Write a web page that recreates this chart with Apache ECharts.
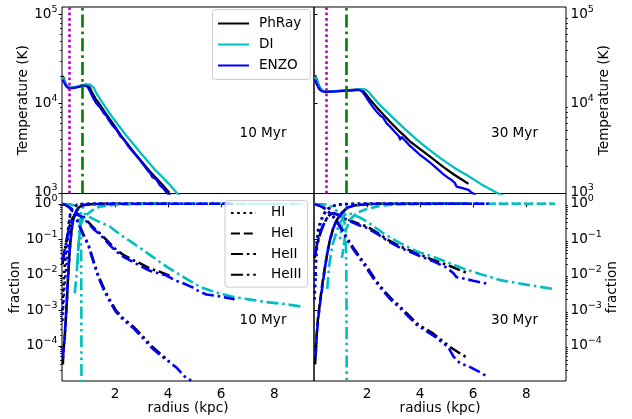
<!DOCTYPE html>
<html><head><meta charset="utf-8">
<script src="https://cdn.jsdelivr.net/npm/echarts@6/dist/echarts.min.js"></script>
<style>html,body{margin:0;padding:0;background:#fff}#c{width:632px;height:419px}</style>
</head><body><div id="c"></div>
<script>
// ---------- data ----------
const codeNames = ['PhRay', 'DI', 'ENZO'];
const speciesNames = ['HI', 'HeI', 'HeII', 'HeIII'];
const panelLabels = ['10 Myr', '30 Myr'];
const radiusTicks = [2, 4, 6, 8];
const tempTickExp = [3, 4, 5];
const fracTickExp = [-4, -3, -2, -1, 0];
const markRadius10 = [0.29, 0.755];   // magenta dotted, green dash-dot
const markRadius30 = [0.48, 1.21];

// Temperature [radius kpc, T K]
const T_PhRay_10 = [[0.03,2.04e4],[0.08,1.85e4],[0.15,1.62e4],[0.22,1.53e4],[0.3,1.5e4],[0.45,1.52e4],[0.6,1.55e4],[0.75,1.6e4],[0.9,1.63e4],[0.98,1.6e4],[1.05,1.5e4],[1.15,1.3e4],[1.27,1.13e4],[1.4,1.0e4],[1.6,8.1e3],[1.8,6.7e3],[2.0,5.5e3],[2.25,4.27e3],[2.5,3.43e3],[2.75,2.75e3],[3.0,2.24e3],[3.25,1.82e3],[3.5,1.51e3],[3.75,1.26e3],[4.05,1.0e3]];
const T_DI_10 = [[0.03,1.98e4],[0.1,1.75e4],[0.2,1.56e4],[0.3,1.5e4],[0.5,1.53e4],[0.7,1.58e4],[0.9,1.62e4],[1.05,1.64e4],[1.12,1.6e4],[1.2,1.5e4],[1.3,1.3e4],[1.42,1.14e4],[1.55,1.0e4],[1.75,8.1e3],[1.95,6.7e3],[2.17,5.5e3],[2.45,4.27e3],[2.72,3.43e3],[2.98,2.75e3],[3.24,2.24e3],[3.5,1.82e3],[3.77,1.51e3],[4.03,1.26e3],[4.32,1.0e3],[4.6,0.82e3]];
const T_ENZO_10 = [[0.02,1.85e4],[0.08,1.72e4],[0.15,1.58e4],[0.25,1.48e4],[0.4,1.49e4],[0.6,1.53e4],[0.8,1.58e4],[0.92,1.58e4],[1.0,1.48e4],[1.08,1.32e4],[1.18,1.15e4],[1.3,1.0e4],[1.45,8.9e3],[1.6,7.6e3],[1.68,7.3e3],[1.75,6.6e3],[1.9,5.7e3],[2.05,5.1e3],[2.2,4.3e3],[2.35,3.9e3],[2.5,3.3e3],[2.65,2.95e3],[2.8,2.6e3],[2.95,2.3e3],[3.1,2.0e3],[3.25,1.75e3],[3.35,1.62e3],[3.4,1.5e3],[3.55,1.42e3],[3.7,1.2e3],[3.82,1.12e3],[3.95,1.0e3],[4.1,0.92e3]];
const T_PhRay_30 = [[0.04,2.07e4],[0.1,1.85e4],[0.2,1.55e4],[0.3,1.4e4],[0.42,1.36e4],[0.7,1.37e4],[1.0,1.39e4],[1.3,1.41e4],[1.6,1.43e4],[1.75,1.43e4],[1.85,1.38e4],[1.95,1.28e4],[2.1,1.12e4],[2.36,9.1e3],[2.6,7.6e3],[2.9,6.1e3],[3.2,4.95e3],[3.4,4.37e3],[3.62,3.76e3],[4.0,3.09e3],[4.4,2.51e3],[4.87,1.95e3],[5.3,1.58e3],[5.82,1.26e3]];
const T_DI_30 = [[0.04,2.0e4],[0.1,1.8e4],[0.2,1.52e4],[0.3,1.4e4],[0.45,1.36e4],[1.0,1.39e4],[1.5,1.42e4],[1.85,1.45e4],[1.95,1.43e4],[2.05,1.36e4],[2.2,1.2e4],[2.5,9.5e3],[2.8,7.8e3],[3.1,6.4e3],[3.45,5.1e3],[3.85,4.0e3],[4.3,3.1e3],[4.8,2.4e3],[5.3,1.9e3],[5.8,1.55e3],[6.3,1.25e3],[6.89,1.0e3],[7.3,0.88e3]];
const T_ENZO_30 = [[0.04,1.85e4],[0.1,1.65e4],[0.2,1.45e4],[0.3,1.37e4],[0.45,1.35e4],[1.0,1.38e4],[1.5,1.41e4],[1.72,1.42e4],[1.82,1.36e4],[1.92,1.24e4],[2.05,1.08e4],[2.2,9.3e3],[2.35,8.2e3],[2.5,7.3e3],[2.6,7.0e3],[2.74,6.0e3],[2.9,5.4e3],[3.05,4.8e3],[3.2,4.3e3],[3.25,3.95e3],[3.3,4.2e3],[3.45,3.8e3],[3.6,3.4e3],[3.8,3.0e3],[4.0,2.65e3],[4.2,2.4e3],[4.4,2.15e3],[4.65,1.85e3],[4.87,1.62e3],[5.05,1.48e3],[5.2,1.38e3],[5.3,1.3e3],[5.38,1.17e3],[5.6,1.13e3],[5.82,1.08e3],[5.95,1.0e3],[6.1,0.95e3]];

// Fractions [radius kpc, fraction]
const F_HI_PhRay_10 = [[0.02,1e-3],[0.05,4e-3],[0.1,1.6e-2],[0.15,0.05],[0.2,0.12],[0.25,0.28],[0.3,0.45],[0.4,0.7],[0.5,0.87],[0.7,0.97],[1.0,0.995],[1.5,1],[4.05,1]];
const F_HeI_PhRay_10 = [[0.03,3e-5],[0.06,8e-5],[0.1,1.7e-4],[0.17,1.2e-3],[0.23,9e-3],[0.29,0.05],[0.35,0.16],[0.42,0.35],[0.5,0.56],[0.6,0.75],[0.7,0.85],[0.9,0.95],[1.2,0.99],[2,1],[4.05,1]];
const F_HeII_PhRay_10 = [[0.02,0.02],[0.1,0.05],[0.2,0.12],[0.3,0.25],[0.4,0.4],[0.5,0.5],[0.58,0.53],[0.7,0.48],[0.85,0.4],[1.0,0.3],[1.2,0.21],[1.42,0.15],[1.75,0.085],[2.05,0.05],[2.35,0.035],[2.68,0.026],[3.0,0.02],[3.31,0.015],[3.65,0.0125],[4.05,0.0095]];
const F_HeIII_PhRay_10 = [[0.02,0.98],[0.1,0.95],[0.2,0.88],[0.3,0.78],[0.4,0.62],[0.5,0.46],[0.6,0.32],[0.7,0.21],[0.8,0.14],[0.9,0.1],[1.0,0.07],[1.15,0.03],[1.36,0.01],[1.6,3.8e-3],[1.8,2e-3],[2.03,1e-3],[2.3,6e-4],[2.68,3.5e-4],[3.0,2e-4],[3.37,1e-4],[3.7,6e-5],[3.94,4.3e-5],[4.05,3.6e-5]];
const F_HI_DI_10 = [[0.64,0.15],[0.7,0.5],[0.8,0.85],[1.0,0.97],[1.5,1],[9.09,1]];
const F_HeI_DI_10 = [[0.58,0.02],[0.62,0.07],[0.7,0.25],[0.8,0.38],[0.92,0.49],[1.2,0.7],[1.42,0.83],[2.0,0.94],[3,0.99],[4,1],[9.09,1]];
const F_HeII_DI_10 = [[0.48,3e-3],[0.55,0.01],[0.6,0.04],[0.65,0.12],[0.7,0.3],[0.76,0.55],[0.82,0.55],[0.92,0.49],[1.1,0.4],[1.4,0.31],[1.8,0.23],[2.2,0.135],[2.68,0.078],[3.3,0.037],[3.94,0.017],[4.6,0.0085],[5.2,0.0046],[5.8,0.0032],[6.45,0.0024],[7.1,0.002],[7.71,0.0017],[8.4,0.0015],[9.09,0.00126]];
const F_HeIII_DI_10 = [[0.02,0.99],[0.3,0.97],[0.45,0.9],[0.55,0.75],[0.62,0.5],[0.67,0.3],[0.7,0.2],[0.72,0.05],[0.73,1e-3],[0.735,1e-6]];
const F_HI_ENZO_10 = [[0.02,5e-4],[0.06,2e-3],[0.1,6e-3],[0.17,0.017],[0.23,0.095],[0.29,0.44],[0.35,0.7],[0.45,0.88],[0.6,0.96],[0.8,0.99],[1.2,1],[6.5,1]];
const F_HeI_ENZO_10 = [[0.04,5e-5],[0.07,1e-4],[0.1,1.6e-4],[0.17,1.26e-3],[0.23,8.9e-3],[0.29,0.05],[0.35,0.15],[0.42,0.35],[0.5,0.55],[0.67,0.83],[0.9,0.95],[1.3,0.99],[2,1],[6.5,1]];
const F_HeII_ENZO_10 = [[0.02,0.025],[0.1,0.05],[0.2,0.12],[0.3,0.24],[0.4,0.38],[0.5,0.48],[0.58,0.5],[0.7,0.45],[0.85,0.37],[1.0,0.28],[1.2,0.19],[1.42,0.14],[1.75,0.075],[2.05,0.045],[2.35,0.031],[2.68,0.023],[3.0,0.017],[3.31,0.013],[3.65,0.011],[3.94,0.0095],[4.3,0.0068],[4.57,0.0058],[4.9,0.0045],[5.2,0.0033],[5.45,0.0028],[5.9,0.0025],[6.45,0.0021],[6.5,0.002]];
const F_HeIII_ENZO_10 = [[0.02,0.98],[0.1,0.95],[0.2,0.87],[0.3,0.76],[0.4,0.6],[0.5,0.44],[0.6,0.3],[0.7,0.2],[0.8,0.13],[0.9,0.095],[1.0,0.065],[1.15,0.028],[1.36,0.009],[1.6,3.4e-3],[1.8,1.8e-3],[2.03,9e-4],[2.3,5.5e-4],[2.68,3.2e-4],[3.0,1.8e-4],[3.37,9e-5],[3.7,5.5e-5],[3.94,4e-5],[4.3,2.5e-5],[4.7,1.2e-5],[4.95,1e-5]];

const F_HI_PhRay_30 = [[0.02,3e-3],[0.04,6e-3],[0.07,0.03],[0.1,0.08],[0.15,0.18],[0.23,0.3],[0.35,0.5],[0.48,0.68],[0.65,0.85],[0.9,0.95],[1.3,0.99],[2,1],[5.82,1]];
const F_HeI_PhRay_30 = [[0.04,3e-5],[0.07,8e-5],[0.1,2e-4],[0.15,6e-4],[0.23,1.8e-3],[0.32,6e-3],[0.42,0.018],[0.5,0.04],[0.6,0.095],[0.72,0.2],[0.86,0.35],[1.0,0.5],[1.23,0.75],[1.5,0.9],[2,0.98],[2.5,1],[5.82,1]];
const F_HeII_PhRay_30 = [[0.02,0.03],[0.1,0.06],[0.2,0.12],[0.3,0.2],[0.45,0.35],[0.6,0.5],[0.73,0.55],[0.9,0.5],[1.1,0.42],[1.4,0.33],[1.7,0.27],[1.99,0.23],[2.4,0.15],[2.8,0.095],[3.25,0.063],[3.9,0.04],[4.5,0.026],[5.1,0.018],[5.64,0.0123],[5.82,0.0115]];
const F_HeIII_PhRay_30 = [[0.02,0.97],[0.2,0.9],[0.35,0.8],[0.48,0.68],[0.6,0.55],[0.73,0.44],[0.9,0.3],[1.05,0.2],[1.28,0.1],[1.5,0.055],[1.75,0.03],[1.99,0.017],[2.3,0.0075],[2.62,0.0037],[2.95,0.002],[3.25,0.00126],[3.55,7.5e-4],[3.87,4.3e-4],[4.2,3e-4],[4.5,2.2e-4],[4.8,1.45e-4],[5.13,9.3e-5],[5.45,6.5e-5],[5.82,4.4e-5]];
const F_HI_DI_30 = [[0.98,0.1],[1.1,0.45],[1.25,0.8],[1.5,0.95],[2,0.99],[3,1],[9.09,1]];
const F_HeI_DI_30 = [[1.05,0.03],[1.1,0.05],[1.2,0.18],[1.35,0.35],[1.6,0.55],[2.0,0.72],[2.5,0.88],[3,0.95],[4,0.99],[5,1],[9.09,1]];
const F_HeII_DI_30 = [[0.5,4e-3],[0.57,0.018],[0.7,0.07],[0.88,0.19],[1.0,0.3],[1.13,0.46],[1.25,0.55],[1.4,0.52],[1.7,0.42],[1.99,0.32],[2.6,0.15],[3.25,0.078],[3.9,0.045],[4.5,0.032],[5.2,0.02],[5.76,0.0138],[6.4,0.0098],[7.02,0.0071],[8.0,0.0053],[9.09,0.0039]];
const F_HeIII_DI_30 = [[0.02,0.99],[0.5,0.95],[0.7,0.8],[0.9,0.6],[1.05,0.45],[1.15,0.3],[1.2,0.1],[1.22,0.01],[1.23,1e-4],[1.235,1e-6]];
const F_HI_ENZO_30 = [[0.02,2e-3],[0.05,6e-3],[0.08,0.025],[0.12,0.07],[0.18,0.17],[0.25,0.3],[0.35,0.47],[0.48,0.65],[0.65,0.83],[0.9,0.94],[1.3,0.99],[2,1],[6.58,1]];
const F_HeI_ENZO_30 = [[0.06,5e-5],[0.1,1.8e-4],[0.16,6e-4],[0.23,1.6e-3],[0.32,5e-3],[0.42,0.017],[0.5,0.04],[0.6,0.095],[0.72,0.2],[0.86,0.35],[1.0,0.5],[1.23,0.76],[1.5,0.9],[2,0.98],[2.5,1],[6.58,1]];
const F_HeII_ENZO_30 = [[0.02,0.035],[0.1,0.065],[0.2,0.13],[0.3,0.21],[0.45,0.36],[0.6,0.5],[0.73,0.54],[0.9,0.48],[1.1,0.4],[1.4,0.31],[1.7,0.25],[1.99,0.21],[2.4,0.14],[2.8,0.088],[3.25,0.058],[3.9,0.036],[4.5,0.024],[5.0,0.016],[5.26,0.011],[5.38,0.0085],[5.6,0.008],[6.0,0.0068],[6.58,0.0055]];
const F_HeIII_ENZO_30 = [[0.02,0.97],[0.2,0.89],[0.35,0.78],[0.48,0.66],[0.6,0.53],[0.73,0.42],[0.9,0.28],[1.05,0.18],[1.28,0.09],[1.5,0.05],[1.75,0.027],[1.99,0.015],[2.3,0.0068],[2.62,0.0034],[2.95,0.0018],[3.25,0.00115],[3.55,6.8e-4],[3.87,3.9e-4],[4.2,2.7e-4],[4.5,1.95e-4],[4.8,1.3e-4],[5.07,9e-5],[5.26,5e-5],[5.51,3.2e-5],[5.8,2.7e-5],[6.2,1.9e-5],[6.58,1.3e-5]];

// ---------- assembly ----------
const panels = [
  { T: {PhRay: T_PhRay_10, DI: T_DI_10, ENZO: T_ENZO_10},
    F: {PhRay: [F_HI_PhRay_10, F_HeI_PhRay_10, F_HeII_PhRay_10, F_HeIII_PhRay_10],
        DI: [F_HI_DI_10, F_HeI_DI_10, F_HeII_DI_10, F_HeIII_DI_10],
        ENZO: [F_HI_ENZO_10, F_HeI_ENZO_10, F_HeII_ENZO_10, F_HeIII_ENZO_10]},
    marks: markRadius10 },
  { T: {PhRay: T_PhRay_30, DI: T_DI_30, ENZO: T_ENZO_30},
    F: {PhRay: [F_HI_PhRay_30, F_HeI_PhRay_30, F_HeII_PhRay_30, F_HeIII_PhRay_30],
        DI: [F_HI_DI_30, F_HeI_DI_30, F_HeII_DI_30, F_HeIII_DI_30],
        ENZO: [F_HI_ENZO_30, F_HeI_ENZO_30, F_HeII_ENZO_30, F_HeIII_ENZO_30]},
    marks: markRadius30 }
];

const FONT = 'DejaVu Sans';
const FS = 13.6;
const COLORS = {PhRay: '#000000', DI: '#00bfbf', ENZO: '#0000ff'};
const DASH = {HI: [2.6, 3.6], HeI: [9, 3.8], HeII: [12, 3.8, 2.6, 3.8], HeIII: [12, 3.8, 2.6, 3.8, 2.6, 3.8]};
const TEMP_RANGE = [2.992, 5.082];
const FRAC_RANGE = [-4.99, 0.29];

const grids = [
  {left: 62, top: 7, width: 252, height: 186.5},
  {left: 314, top: 7, width: 252, height: 186.5},
  {left: 62, top: 193.5, width: 252, height: 187.5},
  {left: 314, top: 193.5, width: 252, height: 187.5}
].map(g => Object.assign(g, {show: true, borderColor: '#000', borderWidth: 1, backgroundColor: 'transparent', containLabel: false, outerBoundsMode: 'none'}));

function minorValues(range) {
  const out = [];
  for (let n = Math.floor(range[0]) - 1; n <= Math.ceil(range[1]); n++) {
    for (let k = 2; k <= 9; k++) {
      const v = n + Math.log10(k);
      if (v >= range[0] && v <= range[1]) out.push(v);
    }
  }
  return out;
}
function expLabel(v) {
  const e = Math.round(v);
  return '{b|10}{s|' + (e < 0 ? '\u2212' + (-e) : e) + '}';
}
const richLabel = {
  b: {fontSize: FS, fontFamily: FONT, color: '#000', lineHeight: 20},
  s: {fontSize: 9.5, fontFamily: FONT, color: '#000', lineHeight: 10, verticalAlign: 'top'}
};

const xAxes = grids.map((g, i) => ({
  gridIndex: i, type: 'value', min: 0, max: 9.5,
  axisLine: {show: false}, splitLine: {show: false},
  axisTick: {show: i >= 2, length: 3.5, lineStyle: {color: '#000', width: 1}, customValues: radiusTicks},
  axisLabel: {show: i >= 2, customValues: radiusTicks, margin: 6, color: '#000', fontSize: FS, fontFamily: FONT},
  name: i >= 2 ? 'radius (kpc)' : '', nameLocation: 'middle', nameGap: 18,
  nameTextStyle: {color: '#000', fontSize: FS, fontFamily: FONT}
}));

const yAxes = [];
const nameGaps = [32, 31, 37, 38];
grids.forEach((g, i) => {
  const top = i < 2;
  const range = top ? TEMP_RANGE : FRAC_RANGE;
  const ticks = top ? tempTickExp : fracTickExp;
  yAxes.push({
    gridIndex: i, type: 'value', min: range[0], max: range[1],
    position: i % 2 === 0 ? 'left' : 'right',
    axisLine: {show: false}, splitLine: {show: false},
    axisTick: {show: true, length: 3.5, lineStyle: {color: '#000', width: 1}, customValues: ticks},
    axisLabel: {show: true, customValues: ticks, margin: 4.5, formatter: expLabel, rich: richLabel},
    name: top ? 'Temperature (K)' : 'fraction', nameLocation: 'middle', nameGap: nameGaps[i],
    nameTextStyle: {color: '#000', fontSize: FS, fontFamily: FONT}
  });
});
grids.forEach((g, i) => {
  const range = i < 2 ? TEMP_RANGE : FRAC_RANGE;
  const mv = minorValues(range);
  yAxes.push({
    gridIndex: i, type: 'value', min: range[0], max: range[1],
    position: i % 2 === 0 ? 'left' : 'right',
    axisLine: {show: false}, splitLine: {show: false},
    axisTick: {show: true, length: 2, lineStyle: {color: '#000', width: 0.8}, customValues: mv},
    axisLabel: {show: false}
  });
});

function toLog(arr) { return arr.map(p => [p[0], Math.log10(p[1])]); }
const series = [];
panels.forEach((p, pi) => {
  const gT = pi, gF = 2 + pi;
  codeNames.forEach(c => {
    series.push({
      type: 'line', name: c, xAxisIndex: gT, yAxisIndex: gT, data: toLog(p.T[c]),
      symbol: 'none', showSymbol: false, silent: true, animation: false, clip: true,
      lineStyle: {color: COLORS[c], width: 2.3, join: 'round'}, itemStyle: {color: COLORS[c]},
      emphasis: {disabled: true}
    });
  });
  series.push({
    type: 'line', name: 'marks' + pi, xAxisIndex: gT, yAxisIndex: gT, data: [],
    silent: true, animation: false,
    markLine: {
      silent: true, animation: false, symbol: ['none', 'none'], label: {show: false},
      data: [
        {xAxis: p.marks[0], lineStyle: {color: '#bf00bf', width: 2.6, type: [2.7, 2.7]}},
        {xAxis: p.marks[1], lineStyle: {color: '#008000', width: 2.6, type: [13, 4, 2.7, 4]}}
      ]
    }
  });
  codeNames.forEach(c => {
    speciesNames.forEach((s, si) => {
      series.push({
        type: 'line', name: c + ' ' + s + ' ' + panelLabels[pi], xAxisIndex: gF, yAxisIndex: gF,
        data: toLog(p.F[c][si]),
        symbol: 'none', showSymbol: false, silent: true, animation: false, clip: true,
        lineStyle: {color: COLORS[c], width: 2.6, type: DASH[s], cap: 'butt', join: 'round'},
        itemStyle: {color: COLORS[c]}, emphasis: {disabled: true}
      });
    });
  });
});
// legend entries for the line styles
speciesNames.forEach(s => {
  series.push({
    type: 'line', name: s, xAxisIndex: 2, yAxisIndex: 2, data: [],
    symbol: 'none', showSymbol: false, silent: true, animation: false,
    lineStyle: {color: '#000', width: 2.6, type: DASH[s], cap: 'butt'}, itemStyle: {color: '#000'}
  });
});

const legendBase = {
  orient: 'vertical', itemHeight: 14, selectedMode: false,
  backgroundColor: 'rgba(255,255,255,0.8)', borderColor: '#cccccc', borderWidth: 1, borderRadius: 3,
  itemStyle: {opacity: 0, borderWidth: 0},
  z: 10
};
const legends = [
  Object.assign({}, legendBase, {
    data: codeNames, left: 212.5, top: 9.5, padding: [7, 9, 7, 4.5], itemWidth: 31, itemGap: 7,
    textStyle: {fontSize: FS, fontFamily: FONT, color: '#000', lineHeight: 14, padding: [0, 0, 0, 5]}
  }),
  Object.assign({}, legendBase, {
    data: speciesNames, left: 225, top: 200.5, padding: [5.4, 6, 5.4, 5], itemWidth: 25, itemGap: 6.6,
    textStyle: {fontSize: FS, fontFamily: FONT, color: '#000', lineHeight: 14, padding: [0, 0, 0, 10]}
  })
];

const textPos = [[239.5, 133.5], [491, 133.5], [239.5, 320.5], [491, 320.5]];
const graphics = textPos.map((t, i) => ({
  type: 'text', x: t[0], y: t[1], z: 20,
  style: {text: panelLabels[i % 2], fontSize: FS, fontFamily: FONT, fill: '#000', verticalAlign: 'middle', align: 'left'}
}));

const chart = echarts.init(document.getElementById('c'), null, {renderer: 'canvas'});
chart.setOption({
  animation: false,
  backgroundColor: '#ffffff',
  textStyle: {fontFamily: FONT},
  grid: grids, xAxis: xAxes, yAxis: yAxes,
  legend: legends, series: series, graphic: graphics
});
</script></body></html>
